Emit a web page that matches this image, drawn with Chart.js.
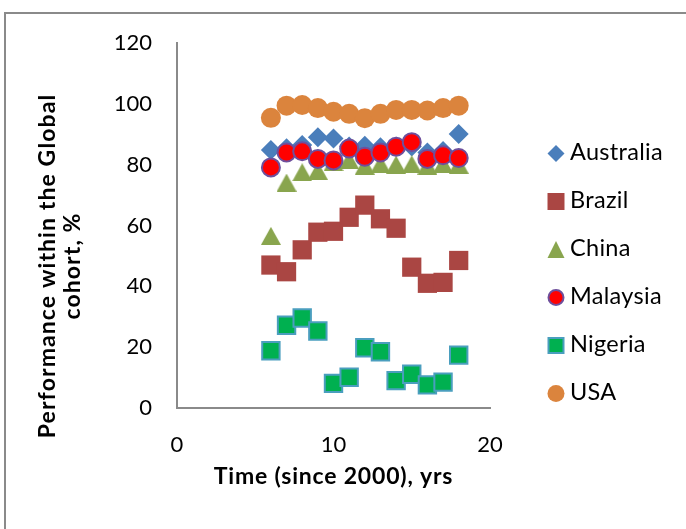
<!DOCTYPE html>
<html>
<head>
<meta charset="utf-8">
<script src="https://cdn.jsdelivr.net/npm/chart.js@4.4.1/dist/chart.umd.min.js"></script>
<style>
  html, body { margin: 0; padding: 0; background: #ffffff; }
  canvas { display: block; }
</style>
</head>
<body>
<canvas id="chart" width="686" height="529"></canvas>
<script>
// Years since 2000
const years = [6, 7, 8, 9, 10, 11, 12, 13, 14, 15, 16, 17, 18];

// Performance within the global cohort, %
const australia = [84.8, 85.4, 86.5, 89.0, 88.6, 86.0, 86.2, 85.7, 86.0, 86.0, 84.0, 84.5, 90.1];
const brazil    = [47.0, 44.8, 52.0, 57.8, 58.1, 62.7, 66.7, 62.2, 59.1, 46.3, 41.0, 41.3, 48.5];
const china     = [56.6, 74.1, 77.5, 78.0, 80.8, 81.5, 79.7, 80.2, 80.0, 80.1, 79.7, 80.2, 80.0];
const malaysia  = [79.1, 84.0, 84.4, 81.9, 81.4, 85.3, 82.6, 84.0, 85.9, 87.4, 81.9, 83.1, 82.2];
const nigeria   = [18.8, 27.2, 29.6, 25.3, 8.1, 10.1, 19.8, 18.5, 9.0, 11.1, 7.6, 8.5, 17.4];
const usa       = [95.4, 99.4, 99.6, 98.6, 97.4, 96.7, 95.3, 96.7, 98.0, 98.0, 97.8, 98.6, 99.4];

const seriesNames = ['Australia', 'Brazil', 'China', 'Malaysia', 'Nigeria', 'USA'];
const seriesValues = [australia, brazil, china, malaysia, nigeria, usa];

const xTicks = [0, 10, 20];
const yTicks = [0, 20, 40, 60, 80, 100, 120];

const xTitle = 'Time (since 2000), yrs';
const yTitle = ['Performance within the Global', 'cohort, %'];

// Triangle marker whose bounding box is centred on the point
function triangleMarker(w, h, color) {
  const c = document.createElement('canvas');
  c.width = w; c.height = h;
  const g = c.getContext('2d');
  g.fillStyle = color;
  g.beginPath();
  g.moveTo(w / 2, 0);
  g.lineTo(w, h);
  g.lineTo(0, h);
  g.closePath();
  g.fill();
  return c;
}

const FONT = 'Lato, "Open Sans", "Liberation Sans", sans-serif';

const markerStyles = [
  { shape: 'rectRot', radius: 10,   fill: '#4A7EBB', border: '#4A7EBB', width: 0, legendSize: 8.5 },
  { shape: 'rect',    radius: 13.6, fill: '#AA4643', border: '#AA4643', width: 0, legendSize: 17 },
  { shape: triangleMarker(20, 18, '#89A54E'), fill: '#89A54E', border: '#89A54E', width: 0, legendSize: 17, tri: true },
  { shape: 'circle',  radius: 9,    fill: '#FF0000', border: '#6E4F9C', width: 2, legendSize: 7.5 },
  { shape: 'rect',    radius: 12.3, fill: '#00B050', border: '#4A9EBE', width: 2, legendSize: 15 },
  { shape: 'circle',  radius: 10,   fill: '#DB843D', border: '#DB843D', width: 0, legendSize: 8.5 }
];

const datasets = seriesNames.map((name, i) => ({
  label: name,
  data: years.map((x, j) => ({ x: x, y: seriesValues[i][j] })),
  pointStyle: markerStyles[i].shape,
  pointRadius: markerStyles[i].radius || 10,
  pointBackgroundColor: markerStyles[i].fill,
  pointBorderColor: markerStyles[i].border,
  pointBorderWidth: markerStyles[i].width,
  showLine: false,
  // later series sit on top of earlier ones
  order: seriesNames.length - i
}));

const frameAndTitles = {
  id: 'frameAndTitles',
  beforeDraw(chart) {
    const ctx = chart.ctx;
    ctx.save();
    ctx.fillStyle = '#ffffff';
    ctx.fillRect(0, 0, chart.width, chart.height);
    ctx.strokeStyle = '#8A8A8A';
    ctx.lineWidth = 2;
    ctx.strokeRect(5, 13, chart.width + 20, chart.height + 20);
    ctx.restore();
  },
  afterDraw(chart) {
    const ctx = chart.ctx;
    const area = chart.chartArea;
    ctx.save();
    ctx.fillStyle = '#000000';
    ctx.font = 'bold 23px ' + FONT;
    ctx.letterSpacing = '0.8px';
    ctx.textAlign = 'center';
    ctx.textBaseline = 'alphabetic';
    ctx.fillText(xTitle, (area.left + area.right) / 2, 484);

    ctx.save();
    ctx.letterSpacing = '1.1px';
    ctx.translate(55, 266);
    ctx.rotate(-Math.PI / 2);
    yTitle.forEach((line, k) => ctx.fillText(line, 0, k * 25));
    ctx.restore();

    // legend
    const lx = 556, ly0 = 153.5, step = 48;
    ctx.letterSpacing = '0.3px';
    ctx.font = '23.5px ' + FONT;
    ctx.textAlign = 'left';
    seriesNames.forEach((name, i) => {
      const s = markerStyles[i];
      const y = ly0 + i * step;
      ctx.fillStyle = s.fill;
      ctx.strokeStyle = s.border;
      ctx.lineWidth = s.width;
      const r = s.legendSize;
      ctx.beginPath();
      if (s.tri) {
        ctx.moveTo(lx, y - r / 2);
        ctx.lineTo(lx + r / 2, y + r / 2);
        ctx.lineTo(lx - r / 2, y + r / 2);
        ctx.closePath();
      } else if (s.shape === 'rectRot') {
        ctx.moveTo(lx, y - r);
        ctx.lineTo(lx + r, y);
        ctx.lineTo(lx, y + r);
        ctx.lineTo(lx - r, y);
        ctx.closePath();
      } else if (s.shape === 'rect') {
        ctx.rect(lx - r / 2, y - r / 2, r, r);
      } else {
        ctx.arc(lx, y, r, 0, Math.PI * 2);
      }
      ctx.fill();
      if (s.width) ctx.stroke();
      ctx.fillStyle = '#000000';
      ctx.fillText(name, 570, y + 6);
    });
    ctx.restore();
  }
};

new Chart(document.getElementById('chart'), {
  type: 'scatter',
  data: { datasets: datasets },
  options: {
    responsive: false,
    animation: false,
    events: [],
    devicePixelRatio: 1,
    layout: { padding: { top: 43, right: 196, bottom: 0, left: 0 } },
    plugins: { legend: { display: false }, tooltip: { enabled: false } },
    scales: {
      x: {
        type: 'linear',
        min: 0, max: 20,
        afterBuildTicks: (s) => { s.ticks = xTicks.map(v => ({ value: v })); },
        afterFit: (s) => { s.height = 121; },
        grid: { display: false, drawTicks: false },
        border: { display: true, color: '#8A8A8A', width: 2 },
        ticks: { color: '#000000', font: { family: FONT, size: 22 }, padding: 24, maxRotation: 0 }
      },
      y: {
        type: 'linear',
        min: 0, max: 120,
        afterBuildTicks: (s) => { s.ticks = yTicks.map(v => ({ value: v })); },
        afterFit: (s) => { s.width = 177; },
        grid: { display: false, drawTicks: false },
        border: { display: true, color: '#8A8A8A', width: 2 },
        ticks: { color: '#000000', font: { family: FONT, size: 22 }, padding: 25 }
      }
    }
  },
  plugins: [frameAndTitles]
});
</script>
</body>
</html>
